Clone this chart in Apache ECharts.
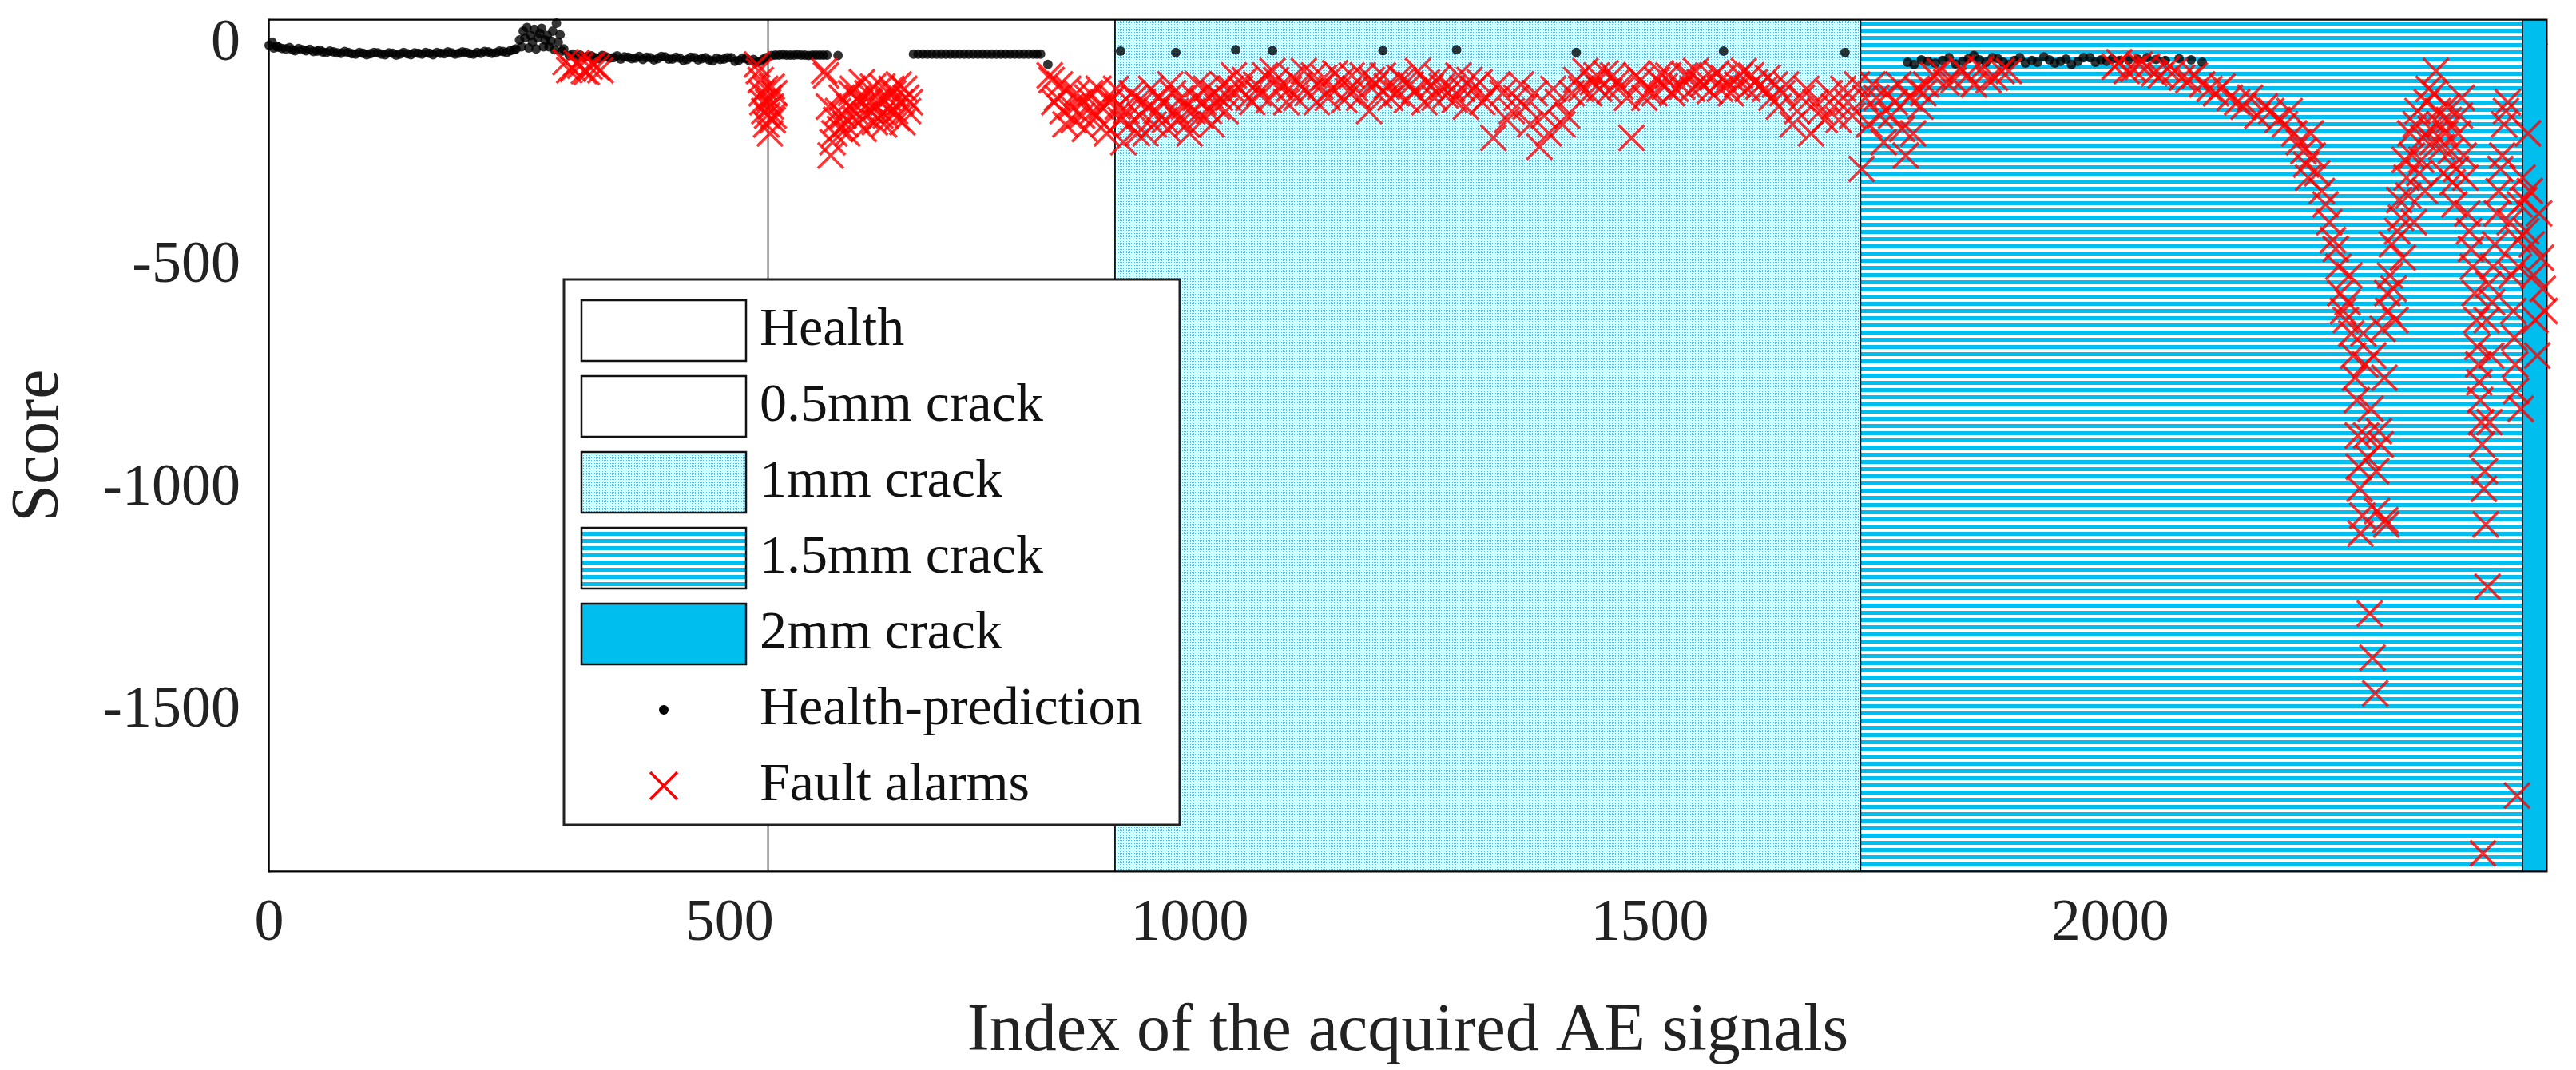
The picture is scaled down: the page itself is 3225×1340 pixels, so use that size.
<!DOCTYPE html>
<html><head><meta charset="utf-8">
<script src="https://cdn.jsdelivr.net/npm/echarts@6/dist/echarts.min.js"></script>
<style>html,body{margin:0;padding:0;background:#fff}#c{width:3225px;height:1340px}</style>
</head><body><div id="c"></div>
<script>
const regionNames = ['Health','0.5mm crack','1mm crack','1.5mm crack','2mm crack'];
const regionBounds = [0, 542, 919, 1729, 2448, 2474];
const yTicks = [0, -500, -1000, -1500];
const xTicks = [0, 500, 1000, 1500, 2000];

const healthPoints = [
[0,-2],[3,5],[5,-8],[8,-4],[10,-6],[14,-9],[18,-10],[22,-7],[25,-12],[28,-14],[32,-9],[36,-12],[40,-14],[44,-11],[48,-16],[52,-15],[55,-13],[58,-17],[62,-18],[66,-15],[70,-17],[74,-19],[78,-20],[82,-16],[86,-18],[90,-21],[94,-22],[98,-18],[102,-20],[106,-23],[110,-21],[114,-18],[118,-19],[122,-22],[126,-23],[130,-19],[134,-20],[138,-24],[142,-22],[146,-18],[150,-21],[154,-23],[158,-19],[162,-20],[166,-22],[170,-18],[174,-20],[178,-23],[182,-18],[186,-20],[190,-21],[194,-17],[198,-19],[202,-22],[206,-20],[210,-17],[214,-18],[218,-21],[222,-22],[226,-18],[230,-20],[234,-16],[238,-17],[242,-20],[246,-19],[250,-15],[254,-16],[258,-18],[262,-14],[266,-12],[268,-10],[272,10],[274,-5],[276,30],[278,15],[280,38],[282,-8],[284,20],[286,5],[288,34],[290,-10],[292,15],[294,25],[296,36],[298,-5],[300,10],[302,20],[304,-5],[306,8],[308,30],[310,-12],[312,48],[314,5],[316,22],[318,-15],[320,-10],[326,-25],[330,-22],[334,-28],[338,-24],[342,-30],[346,-27],[350,-26],[354,-30],[358,-32],[362,-25],[366,-28],[370,-31],[374,-30],[378,-26],[382,-33],[386,-28],[390,-29],[394,-32],[398,-31],[402,-27],[406,-34],[410,-29],[414,-30],[418,-35],[422,-32],[426,-27],[430,-28],[434,-33],[438,-33],[442,-29],[446,-31],[450,-36],[454,-34],[458,-29],[462,-30],[466,-35],[470,-32],[474,-30],[478,-35],[482,-37],[486,-31],[490,-34],[494,-33],[498,-30],[502,-30],[506,-38],[510,-36],[514,-31],[518,-32],[522,-37],[526,-34],[530,-40],[534,-38],[537,-33],[540,-30],[546,-25],[550,-24],[554,-24],[558,-23],[562,-24],[566,-24],[570,-24],[574,-23],[578,-24],[582,-24],[586,-25],[590,-24],[594,-24],[598,-24],[602,-24],[606,-24],[618,-25],
[700,-22],[705,-22],[710,-22],[715,-22],[720,-22],[725,-22],[730,-22],[735,-22],[740,-22],[745,-22],[750,-22],[755,-22],[760,-22],[765,-22],[770,-22],[775,-22],[780,-22],[785,-22],[790,-22],[795,-22],[800,-22],[805,-22],[810,-22],[815,-22],[820,-22],[825,-22],[830,-22],[834,-22],[838,-22],[846,-45],[925,-15],[985,-18],[1050,-12],[1090,-14],[1210,-14],[1290,-12],[1420,-18],[1580,-15],[1712,-18],
[1780,-40],[1787,-45],[1795,-35],[1802,-38],[1810,-42],[1818,-36],[1825,-30],[1832,-44],[1840,-38],[1846,-32],[1852,-25],[1858,-35],[1865,-40],[1872,-30],[1878,-32],[1884,-40],[1890,-45],[1896,-36],[1902,-30],[1908,-42],[1915,-36],[1921,-40],[1928,-28],[1934,-35],[1940,-42],[1946,-38],[1952,-33],[1958,-45],[1965,-38],[1971,-30],[1978,-30],[1984,-40],[1990,-35],[1996,-38],[2002,-33],[2010,-36],[2020,-35],[2030,-33],[2040,-30],[2050,-34],[2060,-36],[2075,-32],[2088,-35],[2100,-40]
];

const alarmPoints = [
[322,-40],[326,-58],[330,-55],[334,-42],[338,-48],[342,-60],[345,-62],[348,-50],[352,-45],[356,-52],[360,-58],
[530,-45],[532,-60],[534,-80],[535,-110],[536,-130],[538,-150],[539,-100],[540,-180],[541,-160],[542,-130],[543,-120],[544,-200],[545,-140],[546,-95],[547,-170],[548,-160],[549,-110],
[603,-60],[605,-70],[608,-140],[610,-250],[612,-220],[614,-200],[616,-170],[618,-150],[620,-190],[622,-120],[624,-160],[626,-180],[628,-200],[630,-140],[632,-110],[634,-100],[636,-150],[638,-170],[640,-120],[642,-130],[644,-85],[646,-190],[648,-160],[650,-110],[652,-130],[654,-150],[656,-95],[658,-175],[660,-140],[662,-125],[664,-160],[666,-95],[668,-180],[670,-160],[672,-120],[674,-140],[676,-100],[678,-110],[680,-150],[682,-165],[684,-90],[686,-130],[688,-175],[690,-100],[692,-120],[694,-150],[696,-130],
[848,-70],[850,-80],[853,-130],[856,-120],[859,-90],[862,-150],[865,-180],[868,-100],[871,-140],[874,-170],[877,-110],[880,-130],[883,-160],[886,-190],[889,-120],[892,-110],[895,-150],[898,-160],[901,-100],[904,-140],[907,-180],[910,-200],[913,-130],[916,-120],
[920,-100],[922,-140],[925,-170],[928,-220],[931,-150],[934,-180],[937,-110],[940,-120],[943,-200],[946,-160],[949,-130],[952,-200],[955,-140],[958,-100],[961,-180],[964,-150],[967,-120],[970,-130],[973,-170],[976,-190],[979,-90],[982,-110],[985,-150],[988,-170],[991,-120],[994,-140],[997,-180],[1000,-200],[1003,-150],[1006,-120],[1009,-90],[1012,-160],[1015,-130],[1018,-100],[1021,-150],[1024,-180],[1027,-110],[1030,-140],[1033,-120],[1036,-90],[1039,-150],[1042,-120],[1045,-100],[1048,-70],
[1055,-100],[1060,-80],[1064,-120],[1068,-130],[1072,-90],[1075,-110],[1082,-70],[1086,-125],[1090,-60],[1094,-80],[1098,-95],[1105,-130],[1108,-100],[1112,-75],[1116,-120],[1120,-90],[1124,-60],[1128,-110],[1135,-70],[1138,-130],[1142,-95],[1146,-75],[1150,-120],[1154,-100],[1158,-65],[1165,-80],[1168,-125],[1172,-105],[1176,-70],[1180,-100],[1184,-120],[1188,-70],[1195,-150],[1198,-80],[1202,-90],[1206,-115],[1210,-70],[1214,-95],[1218,-120],[1225,-110],[1228,-75],[1232,-80],[1236,-125],[1240,-90],[1244,-105],[1248,-60],[1255,-130],[1258,-85],[1262,-95],[1266,-120],[1270,-75],[1274,-95],[1278,-115],[1285,-100],[1288,-125],[1292,-70],[1296,-100],[1300,-140],[1304,-80],[1308,-100],[1315,-85],[1318,-130],[1322,-120],[1330,-210],[1335,-90],[1340,-110],[1345,-170],[1350,-150],[1355,-120],[1360,-90],[1365,-140],[1370,-180],[1375,-110],[1380,-230],[1385,-160],[1390,-200],[1395,-100],[1400,-130],[1405,-180],[1410,-160],[1415,-110],[1420,-80],[1425,-100],[1430,-60],[1434,-110],[1438,-85],[1442,-70],[1445,-100],[1452,-65],[1456,-105],[1460,-70],[1464,-85],[1468,-95],[1475,-120],[1480,-210],[1485,-70],[1490,-80],[1494,-120],[1498,-105],[1505,-110],[1508,-80],[1512,-65],[1516,-95],[1520,-70],[1524,-110],[1528,-100],[1535,-95],[1538,-70],[1542,-70],[1546,-100],[1550,-60],[1554,-85],[1558,-90],[1565,-105],[1568,-75],[1572,-65],[1576,-100],[1580,-75],[1584,-90],[1588,-110],[1595,-90],[1598,-70],[1602,-60],[1606,-100],[1610,-70],[1614,-85],[1618,-95],[1625,-100],[1628,-75],[1632,-120],[1636,-90],[1640,-140],[1644,-110],[1648,-90],[1655,-180],[1660,-150],[1665,-120],[1670,-100],[1675,-200],[1680,-130],[1685,-150],[1690,-170],[1695,-110],[1700,-140],[1705,-170],[1710,-100],[1715,-130],[1720,-160],[1725,-90],
[1730,-280],[1734,-120],[1738,-180],[1742,-90],[1746,-120],[1750,-160],[1754,-220],[1758,-110],[1762,-160],[1766,-130],[1770,-90],[1774,-190],[1778,-250],[1782,-120],[1786,-200],[1790,-100],[1794,-140],[1797,-110],[1800,-90],[1808,-70],[1815,-60],[1822,-85],[1830,-80],[1838,-55],[1845,-70],[1852,-90],[1860,-55],[1868,-80],[1875,-75],[1882,-60],[1890,-60],
[2005,-50],[2010,-40],[2018,-60],[2025,-55],[2032,-45],[2040,-50],[2048,-65],[2055,-70],[2062,-55],[2070,-60],[2078,-75],[2085,-80],[2092,-70],[2100,-90],[2108,-100],[2115,-110],[2122,-95],[2130,-120],[2138,-130],[2145,-140],[2152,-120],[2160,-160],[2168,-140],[2175,-150],[2182,-170],[2190,-180],[2195,-150],[2200,-200],[2205,-220],[2210,-240],[2213,-270],[2215,-300],[2218,-200],[2220,-250],[2225,-290],[2230,-330],[2234,-360],[2238,-400],[2242,-440],[2245,-460],[2248,-500],[2250,-560],[2253,-600],[2256,-620],[2258,-580],[2260,-520],[2262,-650],[2264,-700],[2266,-750],[2268,-800],[2269,-880],[2270,-950],[2271,-1000],[2272,-1100],[2274,-1060],[2275,-650],[2277,-720],[2278,-880],[2280,-930],[2282,-1280],[2283,-820],[2285,-1380],[2286,-700],[2288,-1460],[2289,-960],[2290,-1050],[2292,-870],[2294,-900],[2296,-640],[2298,-750],[2299,-1070],[2300,-1080],[2301,-560],[2302,-600],[2304,-520],[2306,-450],[2308,-550],[2310,-620],[2312,-420],[2314,-350],[2316,-390],[2318,-480],[2320,-260],[2322,-300],[2324,-340],[2326,-200],[2328,-250],[2330,-400],[2332,-180],[2334,-150],[2336,-290],[2338,-260],[2340,-210],[2342,-330],[2344,-130],[2346,-100],[2348,-190],[2350,-220],[2352,-110],[2354,-60],[2356,-150],[2358,-180],[2360,-230],[2362,-290],[2364,-200],[2366,-140],[2368,-170],[2370,-240],[2372,-310],[2374,-360],[2376,-280],[2378,-200],[2380,-160],[2382,-120],[2384,-250],[2386,-300],[2388,-380],[2390,-420],[2392,-460],[2394,-500],[2396,-560],[2398,-620],[2399,-680],[2400,-720],[2401,-760],[2402,-800],[2403,-850],[2404,-900],[2405,-1820],[2406,-1000],[2407,-960],[2408,-1080],[2409,-620],[2410,-1220],[2411,-540],[2412,-850],[2414,-700],[2415,-580],[2416,-500],[2418,-450],[2420,-380],[2422,-330],[2424,-280],[2426,-250],[2428,-180],[2430,-150],[2432,-130],[2434,-400],[2436,-520],[2438,-600],[2439,-660],[2440,-720],[2441,-780],[2442,-1690],[2443,-440],[2444,-500],[2445,-360],[2446,-820],[2448,-300],[2450,-350],[2452,-420],[2454,-200],[2456,-330],[2458,-450],[2460,-520],[2462,-620],[2464,-700],[2466,-380],[2468,-480],[2470,-550],[2472,-600]
];

const chart = echarts.init(document.getElementById('c'));
const F = 'Liberation Serif';

function patDots(){
  const c=document.createElement('canvas');c.width=4;c.height=4;const g=c.getContext('2d');
  g.fillStyle='#ffffff';g.fillRect(0,0,4,4);
  g.fillStyle='#3cc6ef';g.fillRect(0,0,1,1);g.fillRect(2,2,1,1);
  g.fillStyle='#a8a8a8';g.fillRect(2,0,1,1);
  return c;
}
function patLines(){
  const c=document.createElement('canvas');c.width=8;c.height=9;const g=c.getContext('2d');
  g.fillStyle='#ffffff';g.fillRect(0,0,8,9);
  g.fillStyle='#00bff0';g.fillRect(0,0,8,5);
  return c;
}
const fills = ['#ffffff','#ffffff',{image:patDots(),repeat:'repeat'},{image:patLines(),repeat:'repeat'},'#00bfef'];

const areas = regionNames.map((n,i)=>[{xAxis:regionBounds[i],itemStyle:{color:fills[i],borderColor:'#000',borderWidth:1.5}},{xAxis:regionBounds[i+1]}]);

const lx=706, ly=350, lw=771, lh=683;
const FS='68px "'+F+'"';
const graphics=[{type:'rect',shape:{x:lx,y:ly,width:lw,height:lh},style:{fill:'#fff',stroke:'#222',lineWidth:3},z:100}];
regionNames.forEach((n,i)=>{
  const y=ly+26+i*95;
  graphics.push({type:'rect',shape:{x:lx+22,y:y,width:206,height:76},style:{fill:fills[i],stroke:'#111',lineWidth:2.5},z:101});
  graphics.push({type:'text',x:lx+245,y:y+38,style:{text:n,font:FS,fill:'#111',verticalAlign:'middle'},z:101});
});
graphics.push({type:'circle',shape:{cx:lx+125,cy:ly+26+5*95+38,r:6},style:{fill:'#000'},z:101});
graphics.push({type:'text',x:lx+245,y:ly+26+5*95+38,style:{text:'Health-prediction',font:FS,fill:'#111',verticalAlign:'middle'},z:101});
const cx=lx+125, cy=ly+26+6*95+38;
graphics.push({type:'line',shape:{x1:cx-17,y1:cy-17,x2:cx+17,y2:cy+17},style:{stroke:'#f00',lineWidth:3.5},z:101});
graphics.push({type:'line',shape:{x1:cx-17,y1:cy+17,x2:cx+17,y2:cy-17},style:{stroke:'#f00',lineWidth:3.5},z:101});
graphics.push({type:'text',x:lx+245,y:cy,style:{text:'Fault alarms',font:FS,fill:'#111',verticalAlign:'middle'},z:101});

const xPath='path://M0,0L10,10M10,0L0,10';
chart.setOption({
  animation:false,
  grid:{left:335,right:37,top:25,bottom:244,show:true,borderColor:'#111',borderWidth:3,backgroundColor:'transparent'},
  xAxis:{type:'value',min:0,max:2474,interval:500,
    name:'Index of the acquired AE signals',nameLocation:'middle',nameGap:160,
    nameTextStyle:{fontFamily:F,fontSize:84,color:'#222'},
    axisLine:{show:true,lineStyle:{color:'#111',width:3}},
    axisTick:{show:true,inside:true,length:18,lineStyle:{color:'#111',width:2}},
    axisLabel:{fontFamily:F,fontSize:74,color:'#222',margin:30,customValues:xTicks,formatter:v=>String(v)},
    splitLine:{show:false}},
  yAxis:{type:'value',min:-1860,max:55,
    name:'Score',nameLocation:'middle',nameGap:245,
    nameTextStyle:{fontFamily:F,fontSize:84,color:'#222'},
    axisLine:{show:true,lineStyle:{color:'#111',width:3}},
    axisTick:{show:false},
    axisLabel:{fontFamily:F,fontSize:74,color:'#222',margin:36,customValues:yTicks,formatter:v=>String(v)},
    splitLine:{show:false}},
  graphic:graphics,
  series:[
    {type:'line',data:[],markArea:{silent:true,data:areas},z:1},
    {name:'Health-prediction',type:'scatter',data:healthPoints,symbol:'circle',symbolSize:12,itemStyle:{color:'#000'},z:3},
    {name:'Fault alarms',type:'scatter',data:alarmPoints,symbol:xPath,symbolSize:32,
      itemStyle:{color:'none',borderColor:'#ff0000',borderWidth:3.5},z:4}
  ]
});
</script></body></html>
